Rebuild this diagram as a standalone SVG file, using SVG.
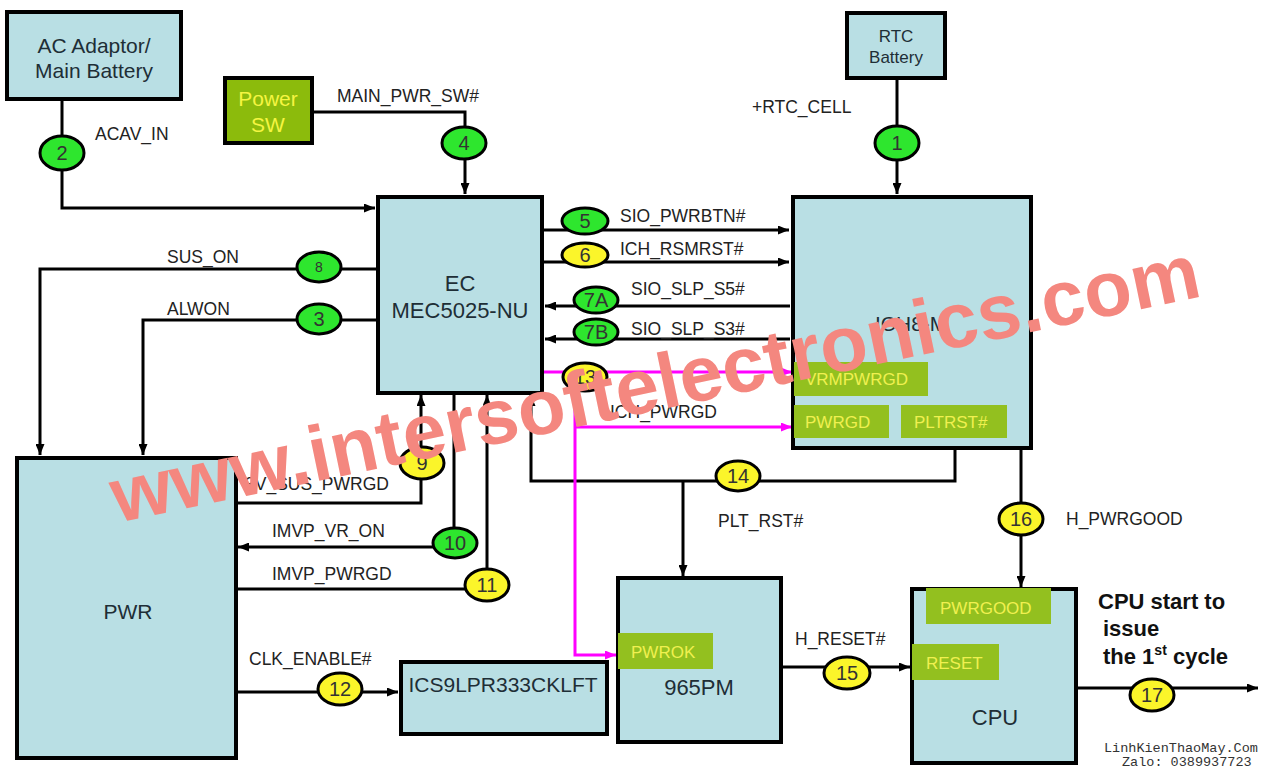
<svg xmlns="http://www.w3.org/2000/svg" width="1261" height="769" viewBox="0 0 1261 769">
<defs>
<style>
.box{fill:#b9dfe4;stroke:#000;stroke-width:4}
.sub{fill:#93c01f}
.w{stroke:#000;stroke-width:3;fill:none}
.m{stroke:#ff00ff;stroke-width:3;fill:none}
.gc{fill:#2ee62e;stroke:#000;stroke-width:3}
.yc{fill:#fbf52a;stroke:#000;stroke-width:3}
text{font-family:"Liberation Sans",Arial,sans-serif}
.t{font-size:21px;fill:#1e2e36;text-anchor:middle}
.lb{font-size:17.5px;fill:#222}
.n{font-size:20px;fill:#333;text-anchor:middle}
.st{font-size:17px;fill:#f0f050}
.cpu{font-size:22px;font-weight:bold;fill:#111}
</style>
<marker id="a" markerWidth="11" markerHeight="9" refX="11" refY="4.5" orient="auto" markerUnits="userSpaceOnUse"><path d="M0,0 L11,4.5 L0,9 z" fill="#000"/></marker>
<marker id="am" markerWidth="11" markerHeight="9" refX="11" refY="4.5" orient="auto" markerUnits="userSpaceOnUse"><path d="M0,0 L11,4.5 L0,9 z" fill="#ff00ff"/></marker>
</defs>
<rect width="1261" height="769" fill="#fff"/>

<g id="connectors">
<path class="w" d="M62,100 V208 H375" marker-end="url(#a)"/>
<path class="w" d="M313,112 H465 V194" marker-end="url(#a)"/>
<path class="w" d="M897,80 V194" marker-end="url(#a)"/>
<path class="w" d="M543,230 H789" marker-end="url(#a)"/>
<path class="w" d="M543,262 H789" marker-end="url(#a)"/>
<path class="w" d="M790,306 H545" marker-end="url(#a)"/>
<path class="w" d="M790,339 H545" marker-end="url(#a)"/>
<path class="w" d="M376,269 H40 V455" marker-end="url(#a)"/>
<path class="w" d="M376,320 H143 V455" marker-end="url(#a)"/>
<path class="w" d="M237,503 H421 V395" marker-end="url(#a)"/>
<path class="w" d="M454,395 V547 H238" marker-end="url(#a)"/>
<path class="w" d="M237,589 H487 V395" marker-end="url(#a)"/>
<path class="w" d="M955,450 V481 H531 V395" marker-end="url(#a)"/>
<path class="w" d="M683,481 V576" marker-end="url(#a)"/>
<path class="w" d="M1021,450 V587" marker-end="url(#a)"/>
<path class="w" d="M237,692 H398" marker-end="url(#a)"/>
<path class="w" d="M783,667 H910" marker-end="url(#a)"/>
<path class="w" d="M1078,688 H1258" marker-end="url(#a)"/>
<path class="m" d="M543,372 H792" marker-end="url(#am)"/>
<path class="m" d="M575,372 V655 H616" marker-end="url(#am)"/>
<path class="m" d="M575,427 H792" marker-end="url(#am)"/>
</g>

<g id="ac">
<rect class="box" x="7" y="12" width="174" height="87"/>
<text class="t" x="94" y="53">AC Adaptor/</text>
<text class="t" x="94" y="78">Main Battery</text>
</g>
<g id="powersw">
<rect x="225" y="78" width="87" height="65" fill="#8cbb0c" stroke="#000" stroke-width="4"/>
<text class="t" x="268" y="106" fill="#f5f542" style="fill:#f5f542">Power</text>
<text class="t" x="268" y="132" style="fill:#f5f542">SW</text>
</g>
<g id="rtc">
<rect class="box" x="847" y="13" width="98" height="65"/>
<text class="t" x="896" y="42" style="font-size:17px">RTC</text>
<text class="t" x="896" y="63" style="font-size:17px">Battery</text>
</g>
<g id="ec">
<rect class="box" x="378" y="197" width="164" height="196"/>
<text class="t" x="460" y="291" style="font-size:22px">EC</text>
<text class="t" x="460" y="318" style="font-size:22px">MEC5025-NU</text>
</g>
<g id="ich">
<rect class="box" x="793" y="197" width="238" height="251"/>
<text x="875" y="331" style="font-size:21px;fill:#1e2e36">ICH8-M</text>
<rect class="sub" x="794" y="362" width="134" height="34"/>
<text class="st" x="805" y="385">VRMPWRGD</text>
<rect class="sub" x="794" y="405" width="95" height="33"/>
<text class="st" x="805" y="428">PWRGD</text>
<rect class="sub" x="901" y="405" width="106" height="33"/>
<text class="st" x="914" y="428">PLTRST#</text>
</g>
<g id="pwr">
<rect class="box" x="17" y="458" width="219" height="300"/>
<text class="t" x="128" y="619">PWR</text>
</g>
<g id="ics">
<rect class="box" x="401" y="662" width="206" height="72"/>
<text class="t" x="503" y="692">ICS9LPR333CKLFT</text>
</g>
<g id="mch">
<rect class="box" x="618" y="578" width="163" height="164"/>
<rect class="sub" x="618" y="633" width="95" height="36"/>
<text class="st" x="631" y="658">PWROK</text>
<text class="t" x="699" y="695" style="font-size:22px">965PM</text>
</g>
<g id="cpu">
<rect class="box" x="912" y="589" width="164" height="174"/>
<rect class="sub" x="926" y="588" width="125" height="36"/>
<text class="st" x="940" y="614">PWRGOOD</text>
<rect class="sub" x="912" y="644" width="87" height="36"/>
<text class="st" x="926" y="669">RESET</text>
<text class="t" x="995" y="725" style="font-size:22px">CPU</text>
</g>

<g id="steps">
<ellipse class="gc" cx="62" cy="153" rx="22" ry="17"/><text class="n" x="62" y="160">2</text>
<ellipse class="gc" cx="464" cy="143" rx="22" ry="16"/><text class="n" x="464" y="150">4</text>
<ellipse class="gc" cx="897" cy="143" rx="22" ry="17"/><text class="n" x="897" y="150">1</text>
<ellipse class="gc" cx="585" cy="221" rx="23" ry="13"/><text class="n" x="585" y="228">5</text>
<ellipse class="yc" cx="585" cy="255" rx="23" ry="12"/><text class="n" x="585" y="262">6</text>
<ellipse class="gc" cx="596" cy="300" rx="22" ry="13"/><text class="n" x="596" y="307">7A</text>
<ellipse class="gc" cx="596" cy="332" rx="22" ry="13"/><text class="n" x="596" y="339">7B</text>
<ellipse class="yc" cx="585" cy="377" rx="22" ry="14"/><text class="n" x="585" y="384">13</text>
<ellipse class="gc" cx="319" cy="267" rx="22" ry="15"/><text class="n" x="319" y="272" style="font-size:14px">8</text>
<ellipse class="gc" cx="319" cy="319" rx="22" ry="15"/><text class="n" x="319" y="326">3</text>
<ellipse class="yc" cx="422" cy="463" rx="22" ry="16"/><text class="n" x="422" y="470">9</text>
<ellipse class="gc" cx="455" cy="543" rx="22" ry="15"/><text class="n" x="455" y="550">10</text>
<ellipse class="yc" cx="487" cy="585" rx="22" ry="16"/><text class="n" x="487" y="592">11</text>
<ellipse class="yc" cx="738" cy="476" rx="22" ry="15"/><text class="n" x="738" y="483">14</text>
<ellipse class="yc" cx="1021" cy="519" rx="22" ry="16"/><text class="n" x="1021" y="526">16</text>
<ellipse class="yc" cx="340" cy="689" rx="22" ry="16"/><text class="n" x="340" y="696">12</text>
<ellipse class="yc" cx="847" cy="673" rx="23" ry="16"/><text class="n" x="847" y="680">15</text>
<ellipse class="yc" cx="1152" cy="695" rx="22" ry="16"/><text class="n" x="1152" y="702">17</text>
</g>

<g id="labels">
<text class="lb" x="95" y="140">ACAV_IN</text>
<text class="lb" x="337" y="102">MAIN_PWR_SW#</text>
<text class="lb" x="752" y="113">+RTC_CELL</text>
<text class="lb" x="620" y="222">SIO_PWRBTN#</text>
<text class="lb" x="620" y="255">ICH_RSMRST#</text>
<text class="lb" x="631" y="295">SIO_SLP_S5#</text>
<text class="lb" x="631" y="335">SIO_SLP_S3#</text>
<text class="lb" x="610" y="418">ICH_PWRGD</text>
<text class="lb" x="167" y="263">SUS_ON</text>
<text class="lb" x="167" y="315">ALWON</text>
<text class="lb" x="245" y="490">3V_SUS_PWRGD</text>
<text class="lb" x="272" y="537">IMVP_VR_ON</text>
<text class="lb" x="272" y="580">IMVP_PWRGD</text>
<text class="lb" x="249" y="665">CLK_ENABLE#</text>
<text class="lb" x="718" y="527">PLT_RST#</text>
<text class="lb" x="795" y="645">H_RESET#</text>
<text class="lb" x="1066" y="525">H_PWRGOOD</text>
<text class="cpu" x="1098" y="609">CPU start to</text>
<text class="cpu" x="1103" y="636">issue</text>
<text class="cpu" x="1103" y="664">the 1<tspan dy="-9" style="font-size:14px">st</tspan><tspan dy="9"> cycle</tspan></text>
</g>

<g id="watermark">
<text x="117" y="523" transform="rotate(-11.8 117 523)" textLength="1110" lengthAdjust="spacing" style="font-size:78px;font-weight:bold;fill:#f4877f">www.intersoftelectronics.com</text>
<text x="1104" y="752" style="font-family:'Liberation Mono',monospace;font-size:13.5px;fill:#333">LinhKienThaoMay.Com</text>
<text x="1122" y="766" style="font-family:'Liberation Mono',monospace;font-size:13.5px;fill:#333">Zalo: 0389937723</text>
</g>
</svg>
